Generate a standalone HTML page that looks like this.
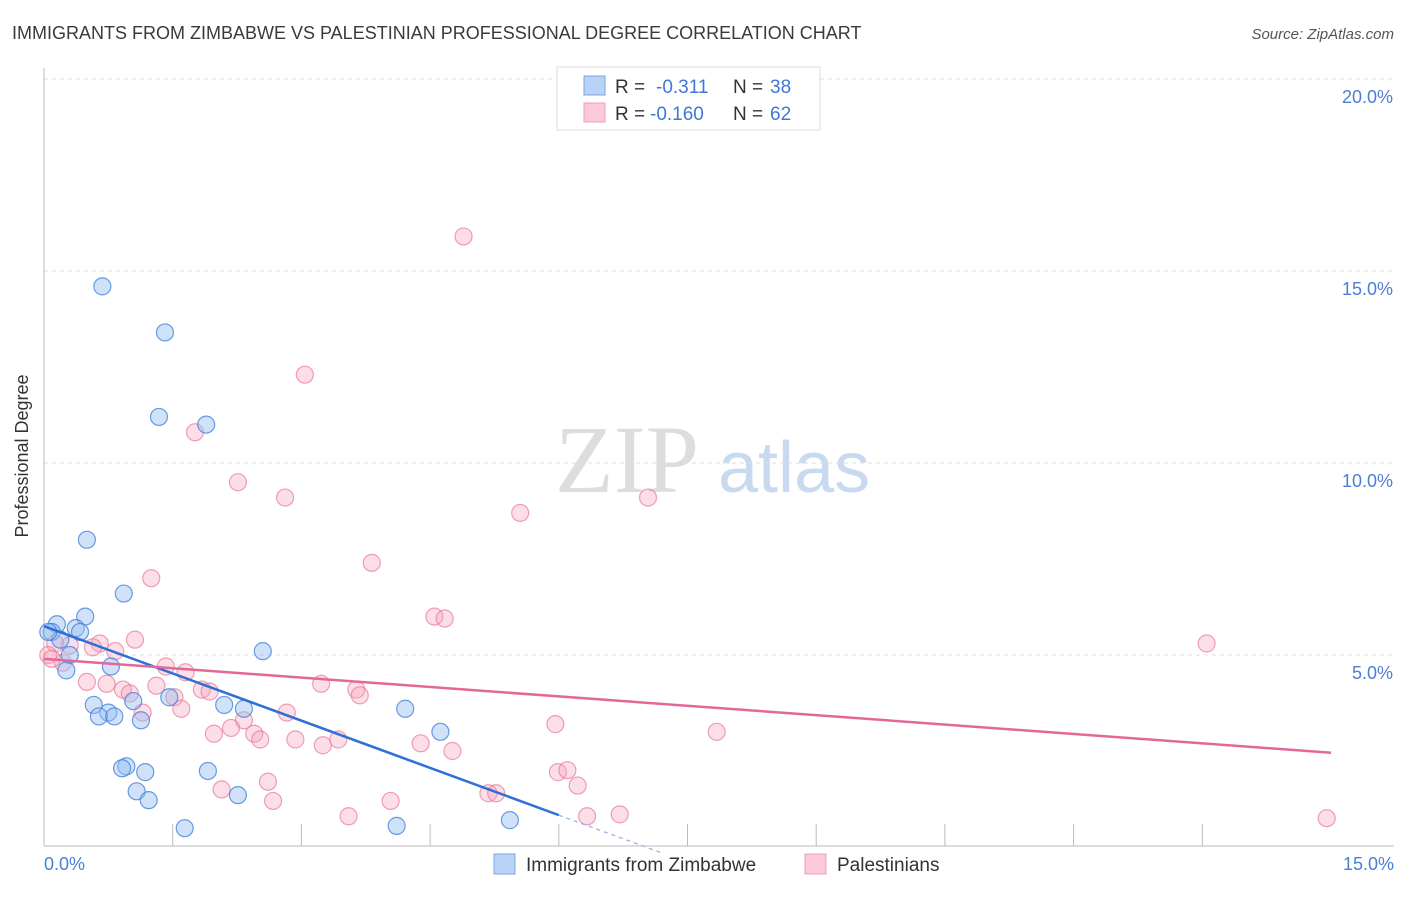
<!DOCTYPE html>
<html><head><meta charset="utf-8"><style>
body{margin:0;background:#fff;font-family:"Liberation Sans",sans-serif}
</style></head><body>
<svg width="1406" height="892" xmlns="http://www.w3.org/2000/svg">
<text x="12" y="39" font-size="18" fill="#3a3a3a">IMMIGRANTS FROM ZIMBABWE VS PALESTINIAN PROFESSIONAL DEGREE CORRELATION CHART</text>
<text x="1394" y="39" font-size="15" fill="#555" font-style="italic" text-anchor="end">Source: ZipAtlas.com</text>
<text x="555" y="492" font-size="96" fill="#ddd" font-family="Liberation Serif">ZIP</text>
<text x="718" y="492" font-size="72" fill="#c9daf0">atlas</text>
<g id="grid"></g>
<line x1="44" y1="68" x2="44" y2="846" stroke="#bbb"/>
<line x1="44" y1="846" x2="1394" y2="846" stroke="#bbb"/>
<text x="28" y="456" font-size="18" fill="#333" transform="rotate(-90 28 456)" text-anchor="middle">Professional Degree</text>
<text x="44" y="870" font-size="18" fill="#4a7fd4">0.0%</text>
<text x="1394" y="870" font-size="18" fill="#4a7fd4" text-anchor="end">15.0%</text>
<g id="pts"></g>
<g id="lines"></g>
<g>
<rect x="557" y="67" width="263" height="63" fill="#fff" stroke="#ddd"/>
<rect x="584" y="76" width="21" height="19" fill="#b8d3f5" stroke="#7aa6e0"/>
<rect x="584" y="103" width="21" height="19" fill="#fbc9d7" stroke="#eea0b8"/>
<text x="615" y="93" font-size="19" fill="#333">R = </text><text x="656" y="93" font-size="19" fill="#3f78d4">-0.311</text>
<text x="733" y="93" font-size="19" fill="#333">N = </text><text x="770" y="93" font-size="19" fill="#3f78d4">38</text>
<text x="615" y="120" font-size="19" fill="#333">R = </text><text x="650" y="120" font-size="19" fill="#3f78d4">-0.160</text>
<text x="733" y="120" font-size="19" fill="#333">N = </text><text x="770" y="120" font-size="19" fill="#3f78d4">62</text>
</g>
<g>
<rect x="494" y="854" width="21" height="20" fill="#b8d3f5" stroke="#7aa6e0"/>
<text x="526" y="871" font-size="19" fill="#333">Immigrants from Zimbabwe</text>
<rect x="805" y="854" width="21" height="20" fill="#fbc9d7" stroke="#eea0b8"/>
<text x="837" y="871" font-size="19" fill="#333">Palestinians</text>
</g>
</svg>
<script>
const yTicks=[5,10,15,20];
const xTicks=[1.5,3,4.5,6,7.5,9,10.5,12,13.5];
const blueX=[0.68,1.41,1.34,1.89,0.50,0.93,2.55,0.48,0.15,0.37,0.09,0.42,0.19,0.30,0.26,0.78,1.46,2.10,2.33,1.04,0.58,0.75,0.64,0.82,1.13,4.21,4.62,0.96,0.91,1.18,1.91,1.08,1.22,2.26,1.64,4.11,5.43,0.05];
const blueY=[14.6,13.4,11.2,11.0,8.0,6.6,5.1,6.0,5.8,5.7,5.6,5.6,5.4,5.0,4.6,4.7,3.9,3.7,3.6,3.8,3.7,3.5,3.4,3.4,3.3,3.6,3.0,2.1,2.05,1.95,1.98,1.45,1.22,1.35,0.49,0.55,0.7,5.6];
const pinkX=[4.89,3.04,1.76,2.26,2.81,5.55,7.04,1.25,3.82,4.55,4.67,1.06,0.65,0.83,0.57,0.13,0.30,0.22,0.05,0.09,1.42,1.65,0.50,0.73,0.92,1.00,1.31,1.52,1.84,1.93,1.60,1.15,3.23,3.64,3.68,2.83,2.33,2.18,1.98,2.45,2.52,2.93,3.25,3.43,4.39,4.76,5.96,7.84,13.55,2.61,2.07,2.67,4.04,3.55,5.18,5.27,5.99,6.10,6.22,6.33,6.71,14.95];
const pinkY=[15.9,12.3,10.8,9.5,9.1,8.7,9.1,7.0,7.4,6.0,5.95,5.4,5.3,5.1,5.2,5.3,5.25,4.8,5.0,4.9,4.7,4.55,4.3,4.25,4.1,4.0,4.2,3.9,4.1,4.05,3.6,3.5,4.25,4.1,3.95,3.5,3.3,3.1,2.95,2.95,2.8,2.8,2.65,2.8,2.7,2.5,3.2,3.0,5.3,1.7,1.5,1.2,1.2,0.8,1.4,1.4,1.95,2.0,1.6,0.8,0.85,0.75];
const sx=v=>44+v*85.8, sy=v=>847-v*38.4;
const NS="http://www.w3.org/2000/svg";
const grid=document.getElementById('grid');
yTicks.forEach(t=>{
 const l=document.createElementNS(NS,'line');
 l.setAttribute('x1',44);l.setAttribute('x2',1394);l.setAttribute('y1',sy(t));l.setAttribute('y2',sy(t));
 l.setAttribute('stroke','#ddd');l.setAttribute('stroke-dasharray','4 4');
 
 
 grid.appendChild(l);
 const tx=document.createElementNS(NS,'text');
 tx.setAttribute('x',1393);tx.setAttribute('y',sy(t)+24);tx.setAttribute('text-anchor','end');
 tx.setAttribute('font-size','18');tx.setAttribute('fill','#4a7fd4');tx.textContent=t.toFixed(1)+'%';
 
 
 grid.appendChild(tx);
});
xTicks.forEach(t=>{
 const l=document.createElementNS(NS,'line');
 l.setAttribute('x1',sx(t));l.setAttribute('x2',sx(t));l.setAttribute('y1',824);l.setAttribute('y2',846);
 l.setAttribute('stroke','#bbb');
 
 
 grid.appendChild(l);
});
const pts=document.getElementById('pts');
function dot(x,y,f,s,name){
 const c=document.createElementNS(NS,'circle');
 c.setAttribute('cx',sx(x));c.setAttribute('cy',sy(y));c.setAttribute('r',8.5);
 c.setAttribute('fill',f);c.setAttribute('stroke',s);c.setAttribute('stroke-width','1.2');
 
 
 pts.appendChild(c);
}
pinkX.forEach((x,i)=>dot(x,pinkY[i],'rgba(246,160,185,0.35)','rgba(232,120,155,0.7)','palestinian-point'));
blueX.forEach((x,i)=>dot(x,blueY[i],'rgba(150,190,240,0.45)','rgba(70,130,220,0.8)','zimbabwe-point'));
const lines=document.getElementById('lines');
function ln(x1,y1,x2,y2,c,dash,name){
 const l=document.createElementNS(NS,'line');
 l.setAttribute('x1',sx(x1));l.setAttribute('y1',sy(y1));l.setAttribute('x2',sx(x2));l.setAttribute('y2',sy(y2));
 l.setAttribute('stroke',c);l.setAttribute('stroke-width',dash?1.2:2.5);
 if(dash)l.setAttribute('stroke-dasharray','4 4');
 
 
 lines.appendChild(l);
}
const bA=5.75,bB=-0.82,pA=4.9,pB=-0.163;
ln(0,bA,6,bA+bB*6,'#2f6fd6',false,'zimbabwe-trendline');
ln(6,bA+bB*6,7.2,bA+bB*7.2,'#8aaee6',true,'zimbabwe-trendline-extension');
ln(0,pA,15,pA+pB*15,'#e4679a',false,'palestinian-trendline');
</script>
</body></html>
